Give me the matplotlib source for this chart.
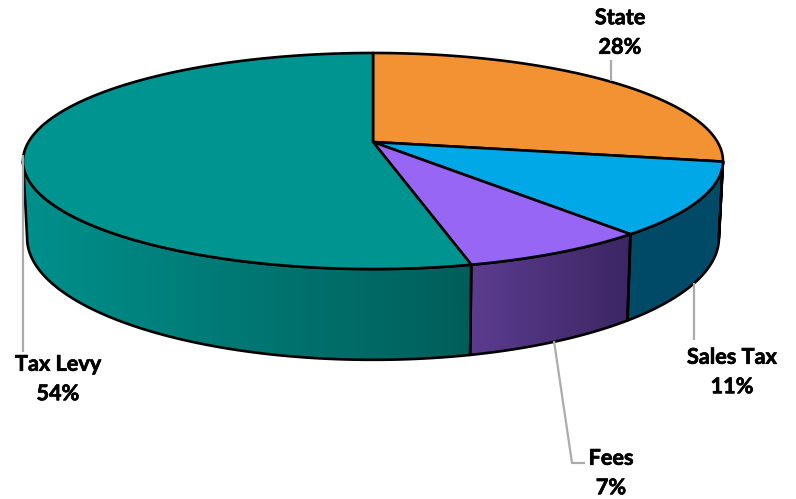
import numpy as np
import matplotlib
matplotlib.use("Agg")
import matplotlib.pyplot as plt
import matplotlib.patheffects as pe
from matplotlib.patches import Polygon
from matplotlib.colors import LinearSegmentedColormap

# --- data -------------------------------------------------------------
categories = ["State", "Sales Tax", "Fees", "Tax Levy"]
values = [27.9, 10.9, 7.4, 53.8]

# --- style ------------------------------------------------------------
top_colors = ["#F39233", "#00A8E8", "#9766F5", "#009490"]
side_left = ["#F39233", "#004A68", "#5C3C90", "#00908C"]
side_right = ["#F39233", "#004A68", "#3C2662", "#005E5A"]
label_pos = [(620, 32.5), (732, 372), (611, 473), (58, 379)]
leaders = [
    [(611, 60), (611, 81)],
    [(694, 283), (694, 340)],
    [(554, 341), (572, 463), (585, 463)],
    [(23, 155), (23, 352)],
]

CX = 373
K = -0.176            # perspective of the disc
R_TOP, A_TOP, B_TOP = 344.5, 79.7, 142
R_BOT, A_BOT, B_BOT = 340.5, 80.0, 216.5


def project(theta, R, A, B):
    """theta is clockwise from 12 o'clock, radians; r=1 rim."""
    u, v = np.sin(theta), -np.cos(theta)
    w = 1 + K * v
    return CX + R * u / w, (A * v + B) / w


fig = plt.figure(figsize=(7.96, 4.99), dpi=100)
ax = fig.add_axes([0, 0, 1, 1])
ax.axis("off")

fractions = np.array(values, dtype=float) / sum(values)
edges = np.concatenate([[0], np.cumsum(fractions)]) * 2 * np.pi
sil_r = np.arccos(K)            # right silhouette of rim
sil_l = 2 * np.pi - sil_r       # left silhouette of rim

# side walls
for i in range(len(values)):
    a, b = max(edges[i], sil_r), min(edges[i + 1], sil_l)
    if b <= a:
        continue
    t = np.linspace(a, b, 300)
    xt, yt = project(t, R_TOP, A_TOP, B_TOP)
    xb, yb = project(t, R_BOT, A_BOT, B_BOT)
    pts = np.vstack([np.column_stack([xt, yt]), np.column_stack([xb, yb])[::-1]])
    ax.add_patch(Polygon(pts, closed=True, facecolor="none", edgecolor="black", lw=1.9,
                         joinstyle="round", zorder=3))
    x0, x1 = pts[:, 0].min(), pts[:, 0].max()
    cmap = LinearSegmentedColormap.from_list("g", [side_left[i], side_right[i]])
    im = ax.imshow(np.linspace(0, 1, 256)[None, :], cmap=cmap, aspect="auto",
                   extent=(x0, x1, pts[:, 1].max(), pts[:, 1].min()), zorder=2,
                   interpolation="bilinear")
    im.set_clip_path(Polygon(pts, closed=True, transform=ax.transData))
ax.set_xlim(0, 796)
ax.set_ylim(499, 0)

# top slices
for i in range(len(values)):
    t = np.linspace(edges[i], edges[i + 1], 400)
    x, y = project(t, R_TOP, A_TOP, B_TOP)
    pts = np.vstack([[CX, B_TOP], np.column_stack([x, y])])
    ax.add_patch(Polygon(pts, closed=True, facecolor=top_colors[i], edgecolor="black",
                         lw=1.9, joinstyle="round", zorder=4))

# leader lines
for line in leaders:
    xs, ys = zip(*line)
    ax.plot(xs, ys, color="#ABABAB", lw=1.6, zorder=5, solid_capstyle="butt")

# labels
for name, val, (lx, ly) in zip(categories, values, label_pos):
    ax.text(lx, ly, f"{name}\n{val:.0f}%", ha="center", va="center", family="Lato",
            fontweight="bold", fontsize=15.6, linespacing=1.5, color="black", zorder=6,
            path_effects=[pe.withStroke(linewidth=0.5, foreground="black")])

fig.savefig("out.png", dpi=100)
